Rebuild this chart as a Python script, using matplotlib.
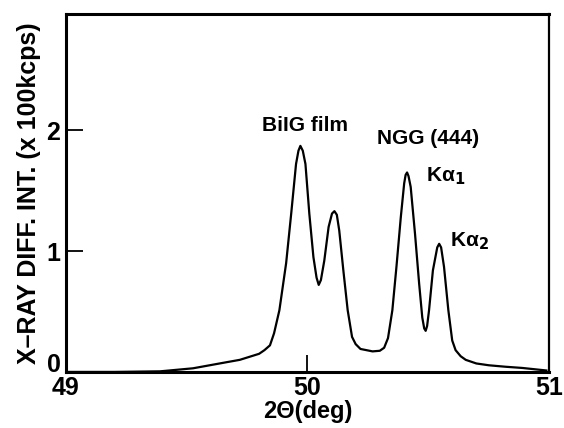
import matplotlib
matplotlib.use("Agg")
import matplotlib.pyplot as plt
import matplotlib.transforms as mtransforms

# 2theta (deg) and intensity (x 100 kcps)
two_theta = [49.0, 49.2, 49.39, 49.526, 49.664, 49.72, 49.80, 49.822, 49.845,
             49.862, 49.884, 49.912, 49.933, 49.953, 49.963, 49.971, 49.981,
             49.992, 50.008, 50.025, 50.038, 50.047, 50.056, 50.070, 50.088,
             50.102, 50.112, 50.122, 50.132, 50.149, 50.167, 50.185, 50.200,
             50.220, 50.27, 50.300, 50.318, 50.334, 50.352, 50.369, 50.387,
             50.401, 50.407, 50.413, 50.419, 50.428, 50.446, 50.463, 50.476,
             50.484, 50.490, 50.496, 50.504, 50.52, 50.538, 50.546, 50.554,
             50.566, 50.584, 50.60, 50.614, 50.635, 50.656, 50.70, 50.752,
             50.82, 50.89, 50.99]
intensity = [0.0, 0.0, 0.005, 0.03, 0.08, 0.10, 0.15, 0.18, 0.22,
             0.32, 0.51, 0.90, 1.31, 1.72, 1.83, 1.87, 1.83,
             1.72, 1.31, 0.95, 0.78, 0.72, 0.76, 0.92, 1.20,
             1.31, 1.33, 1.30, 1.17, 0.84, 0.51, 0.29, 0.23,
             0.19, 0.17, 0.175, 0.20, 0.28, 0.51, 0.87, 1.28,
             1.56, 1.63, 1.65, 1.62, 1.53, 1.14, 0.73, 0.45,
             0.36, 0.34, 0.38, 0.51, 0.84, 1.03, 1.06, 1.03,
             0.87, 0.51, 0.26, 0.18, 0.13, 0.10, 0.07, 0.055,
             0.043, 0.033, 0.012]

xticks = [49, 50, 51]
yticks = [0, 1, 2]

plt.rcParams['font.family'] = ['Liberation Sans', 'DejaVu Sans']
plt.rcParams['font.weight'] = 'bold'

fig = plt.figure(figsize=(5.64, 4.28), dpi=100)
ax = fig.add_axes([0.117, 0.131, 0.856, 0.836])

ax.plot(two_theta, intensity, color='black', lw=1.6)

ax.set_xlim(49, 51)
ax.set_ylim(0, 2.96)
ax.set_xticks(xticks)
ax.set_yticks(yticks)
ax.set_xticklabels([str(t) for t in xticks], fontsize=18, fontweight='bold')
ax.set_yticklabels([str(t) for t in yticks], fontsize=18, fontweight='bold')
ax.tick_params(axis='x', direction='in', length=12, width=1.3, pad=3)
ax.tick_params(axis='y', direction='in', length=12, width=1.3, pad=4)

# nudge the "0" up so it sits clear of the "49"
lab0 = ax.get_yticklabels()[0]
lab0.set_transform(lab0.get_transform() +
                   mtransforms.ScaledTranslation(0, 9 / 100, fig.dpi_scale_trans))

for side in ['left', 'bottom', 'top']:
    ax.spines[side].set_linewidth(2.2)
ax.spines['right'].set_linewidth(1.6)

ax.set_xlabel('2Θ(deg)', fontsize=17, fontweight='bold', labelpad=0)
ax.set_ylabel('X\u2013RAY DIFF. INT. (x 100kcps)', fontsize=18,
              fontweight='bold', labelpad=4)

ax.text(49.99, 2.04, 'BiIG film', fontsize=15, fontweight='bold',
        ha='center', va='center')
ax.text(50.50, 1.93, 'NGG (444)', fontsize=15, fontweight='bold',
        ha='center', va='center')
ax.text(50.49, 1.62, 'K\u03b1$_1$', fontsize=15, fontweight='bold',
        ha='left', va='center')
ax.text(50.59, 1.08, 'K\u03b1$_2$', fontsize=15, fontweight='bold',
        ha='left', va='center')

fig.savefig('out.png', dpi=100)
